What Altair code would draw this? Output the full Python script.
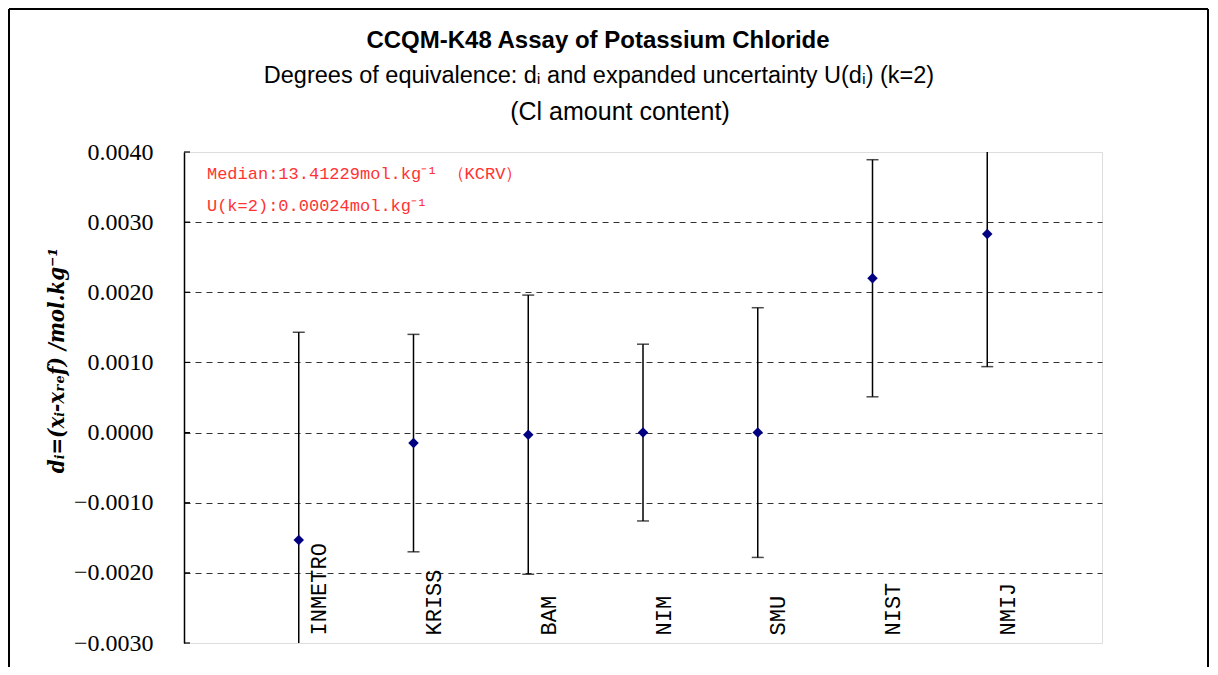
import altair as alt
import pandas as pd

# ---- data ----
labs = ["INMETRO", "KRISS", "BAM", "NIM", "SMU", "NIST", "NMIJ"]
d_vals = [-0.00153, -0.00015, -0.00003, 0.0, 0.0, 0.00220, 0.00283]
u_vals = [0.00296, 0.00155, 0.00199, 0.00126, 0.00178, 0.00169, 0.00189]
y_ticks = [-0.003, -0.002, -0.001, 0.0, 0.001, 0.002, 0.003, 0.004]
y_min, y_max = -0.003, 0.004

title1 = "CCQM-K48 Assay of Potassium Chloride"
title2 = "Degrees of equivalence: d\u1d62 and expanded uncertainty U(d\u1d62) (k=2)"
title3 = "(Cl amount content)"
note1 = "Median:13.41229mol.kg\u207b\u00b9 \uff08KCRV\uff09"
note2 = "U(k=2):0.00024mol.kg\u207b\u00b9"
y_title = "d\u1d62=(x\u1d62-x\u1d63\u2091f) /mol.kg\u207b\u00b9"

idx = list(range(1, len(labs) + 1))
df = pd.DataFrame({"lab": labs, "idx": idx, "d": d_vals, "U": u_vals})
df["lo"] = df["d"] - df["U"]
df["hi"] = df["d"] + df["U"]

caps = []
for i, lo, hi in zip(idx, df["lo"], df["hi"]):
    for v in (lo, hi):
        if y_min <= v <= y_max:
            caps.append({"idx": i, "v": v})
caps = pd.DataFrame(caps)
ticks_df = pd.DataFrame({"t": y_ticks})

label_expr = "[" + ",".join("'" + s + "'" for s in labs) + "][datum.value-1]"

xs = alt.Scale(domain=[0, len(labs) + 1], nice=False, zero=False)
ys = alt.Scale(domain=[y_min, y_max], nice=False, zero=False, clamp=True)

SERIF = "Liberation Serif"
MONO = "Liberation Mono"
SANS = "Liberation Sans, Arial"

x_axis = alt.Axis(
    values=idx, labelExpr=label_expr, title=None, ticks=False, tickSize=0,
    domain=False, grid=False, labelAngle=270, labelAlign="left",
    labelBaseline="middle", labelPadding=-8, labelOffset=20,
    labelFont=MONO, labelFontSize=22, labelColor="#000000",
    labelOverlap=False, labelFlush=False,
)
y_axis = alt.Axis(
    values=y_ticks, format=".4f", ticks=False, tickSize=0,
    labelFont=SERIF, labelFontSize=24, labelFontWeight="normal", labelColor="#000000", labelPadding=31,
    domainColor="#000000", domainWidth=1.5,
    grid=True, gridColor="#333333", gridDash=[6, 5], gridWidth=1,
    gridOpacity={"condition": {"test": "datum.value > 0.0039 || datum.value < -0.0029", "value": 0}, "value": 1},
    title=y_title,
    titleFont="DejaVu Serif Condensed, DejaVu Serif", titleFontSize=22, titleFontWeight="bold",
    titleFontStyle="italic",
    titleColor="#000000", titleX=-116, titleY=208, titleAlign="center", titleBaseline="bottom",
    labelOverlap=False, labelFlush=False,
)

base = alt.Chart(df)

bars = base.mark_rule(color="#000000", strokeWidth=1.5).encode(
    x=alt.X("idx:Q", scale=xs, axis=x_axis),
    y=alt.Y("lo:Q", scale=ys, axis=y_axis),
    y2="hi:Q",
)

cap_marks = alt.Chart(caps).mark_tick(
    color="#000000", orient="horizontal", size=12, thickness=1.5
).encode(x=alt.X("idx:Q", scale=xs), y=alt.Y("v:Q", scale=ys))

pts = base.mark_point(
    shape="diamond", filled=True, color="#000080", size=110, opacity=1
).encode(x=alt.X("idx:Q", scale=xs), y=alt.Y("d:Q", scale=ys))

inner_ticks = alt.Chart(ticks_df).mark_rule(color="#000000", strokeWidth=1.2).encode(
    y=alt.Y("t:Q", scale=ys), x=alt.value(0), x2=alt.value(6)
)

one = alt.Chart(df).transform_aggregate(n="count()")

n1 = one.mark_text(
    text=note1, font=MONO, fontSize=17, color="#ff3333", align="left", baseline="alphabetic"
).encode(x=alt.datum(0.2, scale=xs), y=alt.datum(0.003615, scale=ys))
n2 = one.mark_text(
    text=note2, font=MONO, fontSize=17, color="#ff3333", align="left", baseline="alphabetic"
).encode(x=alt.datum(0.2, scale=xs), y=alt.datum(0.003159, scale=ys))

# chart titles (placed above the plot area)
t1 = one.mark_text(text=title1, font=SANS, fontSize=24, fontWeight="bold", color="#000000",
                   align="center", baseline="alphabetic").encode(x=alt.value(414), y=alt.value(-104))
t2 = one.mark_text(text=title2, font=SANS, fontSize=23.5, color="#000000",
                   align="center", baseline="alphabetic").encode(x=alt.value(415), y=alt.value(-69))
t3 = one.mark_text(text=title3, font=SANS, fontSize=25, color="#000000",
                   align="center", baseline="alphabetic").encode(x=alt.value(436), y=alt.value(-32))

# decorative outer frame of the figure
frame_left = one.mark_rule(color="#000000", strokeWidth=2).encode(
    x=alt.value(-175), y=alt.value(-143), y2=alt.value(516))
frame_top = one.mark_rule(color="#000000", strokeWidth=2).encode(
    x=alt.value(-175), x2=alt.value(1024), y=alt.value(-143))
frame_right = one.mark_rule(color="#000000", strokeWidth=2).encode(
    x=alt.value(1024), y=alt.value(-143), y2=alt.value(516))

chart = alt.layer(
    bars, cap_marks, pts, inner_ticks, n1, n2, t1, t2, t3, frame_left, frame_top, frame_right
).properties(
    width=918, height=491,
    autosize=alt.AutoSizeParams(type="none"),
    padding={"left": 176, "top": 144, "right": 108, "bottom": 24},
).configure_view(stroke="#9a9a9a", strokeWidth=2).configure(background="white")

chart.save("out.html", embed_options={"renderer": "svg", "actions": False})
